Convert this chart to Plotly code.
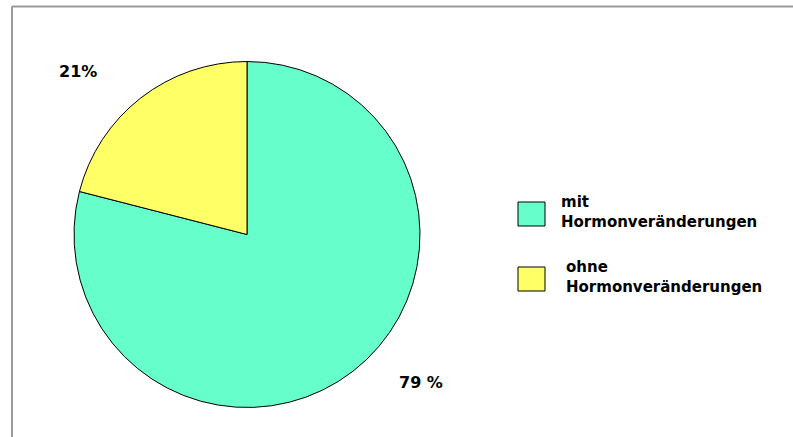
import plotly.graph_objects as go

# Anteil der Fälle mit / ohne Hormonveränderungen
labels = ["mit Hormonveränderungen", "ohne Hormonveränderungen"]
values = [79, 21]
value_text = ["79 %", "21%"]
legend_lines = ["mit<br>Hormonveränderungen", "ohne<br>Hormonveränderungen"]
colors = ["#66FFCC", "#FFFF66"]

W, H = 793, 437
FONT = "DejaVu Sans"


def px(x):
    return x / W


def py(y):
    return 1 - y / H


fig = go.Figure()
fig.add_trace(go.Pie(
    labels=labels,
    values=values,
    sort=False,
    direction="clockwise",
    rotation=0,
    marker=dict(colors=colors, line=dict(color="#000000", width=1)),
    textinfo="none",
    hoverinfo="label+percent",
    showlegend=False,
    domain=dict(x=[px(74), px(420)], y=[py(408), py(61)]),
))

# Prozentangaben neben den Segmenten
fig.add_annotation(x=px(421), y=py(382), text=f"<b>{value_text[0]}</b>",
                   showarrow=False, xanchor="center", yanchor="middle",
                   font=dict(family=FONT, size=16, color="#000"))
fig.add_annotation(x=px(78), y=py(71), text=f"<b>{value_text[1]}</b>",
                   showarrow=False, xanchor="center", yanchor="middle",
                   font=dict(family=FONT, size=16, color="#000"))

# Legende: Farbfelder und zweizeilige Beschriftung
legend_rows = [
    dict(color=colors[0], box_y=(202, 226), text=legend_lines[0], tx=559, ty=191),
    dict(color=colors[1], box_y=(267, 291), text=legend_lines[1], tx=564, ty=256),
]
for row in legend_rows:
    fig.add_shape(type="rect", xref="paper", yref="paper",
                  x0=px(518), x1=px(545), y0=py(row["box_y"][1]), y1=py(row["box_y"][0]),
                  fillcolor=row["color"], line=dict(color="#000", width=1))
    fig.add_annotation(x=px(row["tx"]), y=py(row["ty"]), text=f"<b>{row['text']}</b>",
                       showarrow=False, xanchor="left", yanchor="top", align="left",
                       font=dict(family=FONT, size=15, color="#000"))

# Rahmen oben und links
fig.add_shape(type="line", xref="paper", yref="paper",
              x0=px(12), x1=1.02, y0=py(6.5), y1=py(6.5),
              line=dict(color="#9a9a9a", width=2))
fig.add_shape(type="line", xref="paper", yref="paper",
              x0=px(12), x1=px(12), y0=py(6.5), y1=-0.02,
              line=dict(color="#9a9a9a", width=2))

fig.update_layout(
    width=W, height=H,
    margin=dict(l=0, r=0, t=0, b=0),
    paper_bgcolor="#ffffff",
    plot_bgcolor="#ffffff",
)

fig.write_html("out.html")
